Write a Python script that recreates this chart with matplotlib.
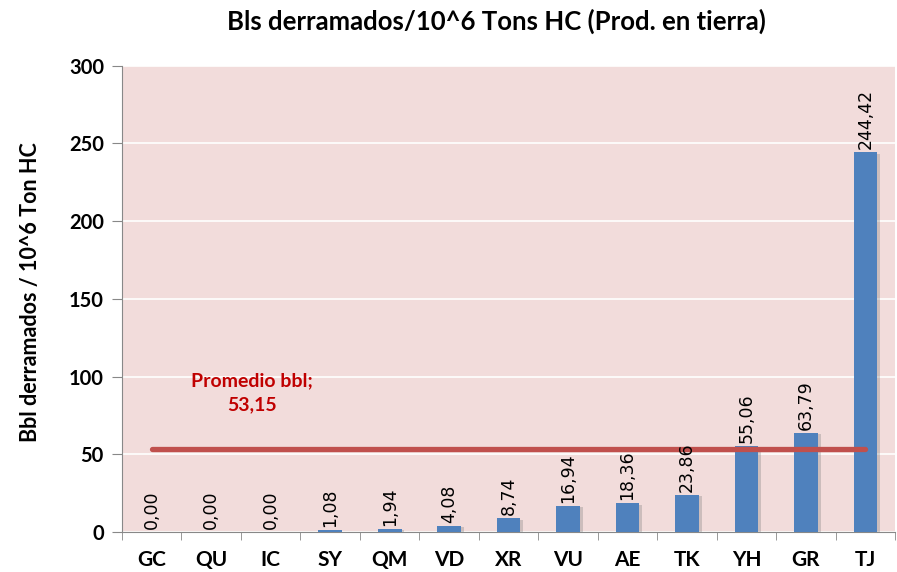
import matplotlib
matplotlib.use('Agg')
from matplotlib import pyplot as plt
import matplotlib.patheffects as pe
import numpy as np

plt.rcParams['font.family'] = ['Lato', 'DejaVu Sans']

categories = ['GC', 'QU', 'IC', 'SY', 'QM', 'VD', 'XR', 'VU', 'AE', 'TK', 'YH', 'GR', 'TJ']
values = [0.00, 0.00, 0.00, 1.08, 1.94, 4.08, 8.74, 16.94, 18.36, 23.86, 55.06, 63.79, 244.42]
promedio = 53.15

BAR_COLOR = '#4F81BD'
AVG_COLOR = '#C0504D'
BG_COLOR = '#F2DCDB'


def fmt(v):
    return f'{v:.2f}'.replace('.', ',')


def main():
    fig = plt.figure(figsize=(8.97, 5.72), dpi=100)
    ax = fig.add_axes([0.136, 0.07, 0.862, 0.815])
    ax.set_facecolor(BG_COLOR)

    x = np.arange(len(categories))
    bars = ax.bar(x, values, width=0.4, color=BAR_COLOR, zorder=3)
    for b in bars:
        b.set_path_effects([pe.SimplePatchShadow(offset=(2, -1), shadow_rgbFace='#777777', alpha=0.3),
                            pe.Normal()])

    for xi, v in zip(x, values):
        ax.text(xi, v + 2, fmt(v), rotation=90, ha='center', va='bottom',
                fontsize=12.5, family='DejaVu Sans', color='black', zorder=5)

    # average line
    ax.plot([x[0], x[-1]], [promedio, promedio], color=AVG_COLOR, lw=3.8,
            solid_capstyle='round', zorder=4)
    ax.text(1.68, 89.5, f'Promedio bbl;\n{fmt(promedio)}', ha='center', va='center',
            color='#C00000', fontsize=14, fontweight='bold', linespacing=1.45, zorder=5)

    ax.set_xlim(-0.5, len(categories) - 0.5)
    ax.set_ylim(0, 300)
    ax.set_yticks(np.arange(0, 301, 50))
    ax.yaxis.grid(True, color='white', lw=1.2, zorder=0)
    ax.set_axisbelow(True)

    ax.set_xticks(x)
    ax.set_xticklabels(categories, fontsize=15, fontweight='bold')
    ax.set_xticks(np.arange(-0.5, len(categories), 1), minor=True)
    ax.tick_params(axis='x', which='major', length=0, pad=13)
    ax.tick_params(axis='x', which='minor', length=6, color='#888888')
    ax.tick_params(axis='y', length=7, color='#888888', labelsize=14.5, pad=6)
    for lab in ax.get_yticklabels():
        lab.set_fontweight('bold')

    for s in ['top', 'right']:
        ax.spines[s].set_visible(False)
    ax.spines['left'].set_color('#888888')
    ax.spines['bottom'].set_color('#888888')

    ax.set_ylabel('Bbl derramados / 10^6 Ton HC', fontsize=15.5, fontweight='bold')
    ax.yaxis.set_label_coords(-0.105, 0.515)
    fig.text(0.553, 0.962, 'Bls derramados/10^6 Tons HC (Prod. en tierra)', ha='center',
             va='center', fontsize=18.5, fontweight='bold')

    fig.savefig('out.png', dpi=100)


if __name__ == '__main__':
    main()
